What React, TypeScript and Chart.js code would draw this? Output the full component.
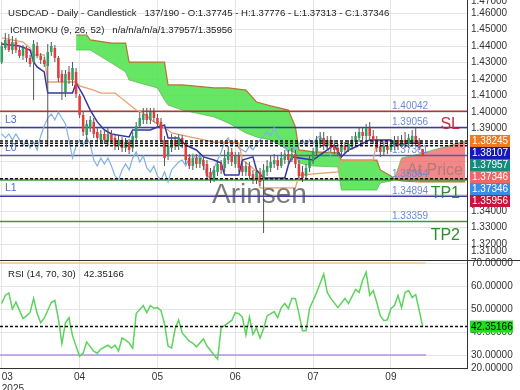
import React, { useEffect, useRef } from "react";
import { Chart, registerables } from "chart.js";

Chart.register(...registerables);

const FONT = '"Liberation Sans", Arial, sans-serif';
const GRID = "#e4e4e4";

// ---- candles (daily) ----
const opens = [
  1.4303, 1.4388, 1.4437, 1.4376, 1.4424, 1.4376, 1.4340, 1.4388, 1.4328, 1.4303,
  1.4400, 1.4340, 1.4315, 1.4279, 1.4364, 1.4388, 1.4328, 1.4231, 1.4121, 1.4243,
  1.4194, 1.4243, 1.4097, 1.3982, 1.3861, 1.3903, 1.3940, 1.3879, 1.3831, 1.3867,
  1.3818, 1.3867, 1.3843, 1.3794, 1.3831, 1.3782, 1.3818, 1.3782, 1.3843, 1.3915,
  1.3952, 1.3988, 1.3952, 1.4000, 1.3964, 1.3940, 1.3831, 1.3734, 1.3782, 1.3831,
  1.3794, 1.3843, 1.3806, 1.3721, 1.3673, 1.3721, 1.3685, 1.3709, 1.3685, 1.3637,
  1.3588, 1.3637, 1.3685, 1.3661, 1.3709, 1.3758, 1.3685, 1.3734, 1.3673, 1.3637,
  1.3673, 1.3624, 1.3588, 1.3637, 1.3588, 1.3637, 1.3661, 1.3685, 1.3709, 1.3673,
  1.3709, 1.3746, 1.3709, 1.3746, 1.3685, 1.3637, 1.3612, 1.3661, 1.3709, 1.3758,
  1.3806, 1.3843, 1.3794, 1.3831, 1.3794, 1.3782, 1.3758, 1.3794, 1.3770, 1.3794,
  1.3818, 1.3843, 1.3879, 1.3855, 1.3903, 1.3855, 1.3831, 1.3794, 1.3758, 1.3794,
  1.3770, 1.3794, 1.3831, 1.3794, 1.3831, 1.3806, 1.3818, 1.3855, 1.3818, 1.37745,
];
const highs = [
  1.4424, 1.4479, 1.4473, 1.4461, 1.4449, 1.4400, 1.4406, 1.4400, 1.4346, 1.4437,
  1.4424, 1.4358, 1.4334, 1.4412, 1.4424, 1.4406, 1.4340, 1.4255, 1.4255, 1.4279,
  1.4303, 1.4267, 1.4109, 1.4000, 1.3952, 1.3976, 1.3964, 1.3903, 1.3891, 1.3885,
  1.3903, 1.3891, 1.3867, 1.3855, 1.3849, 1.3843, 1.3837, 1.3879, 1.3940, 1.4000,
  1.4024, 1.4024, 1.4024, 1.4024, 1.3988, 1.3964, 1.3855, 1.3831, 1.3867, 1.3855,
  1.3867, 1.3861, 1.3831, 1.3746, 1.3740, 1.3746, 1.3740, 1.3734, 1.3709, 1.3661,
  1.3673, 1.3709, 1.3709, 1.3770, 1.3794, 1.3782, 1.3758, 1.3758, 1.3697, 1.3697,
  1.3697, 1.3649, 1.3661, 1.3661, 1.3685, 1.3709, 1.3734, 1.3746, 1.3734, 1.3758,
  1.3770, 1.3770, 1.3782, 1.3770, 1.3709, 1.3673, 1.3685, 1.3734, 1.3782, 1.3855,
  1.3879, 1.3879, 1.3855, 1.3855, 1.3831, 1.3806, 1.3818, 1.3818, 1.3831, 1.3855,
  1.3879, 1.3903, 1.3903, 1.3928, 1.3940, 1.3891, 1.3855, 1.3818, 1.3818, 1.3818,
  1.3831, 1.3855, 1.3855, 1.3861, 1.3879, 1.3867, 1.3891, 1.3903, 1.3843, 1.37776,
];
const lows = [
  1.4291, 1.4376, 1.4364, 1.4352, 1.4358, 1.4328, 1.4315, 1.4303, 1.4273, 1.4073,
  1.4328, 1.4291, 1.4273, 1.3794, 1.4340, 1.4303, 1.4182, 1.4073, 1.4091, 1.4170,
  1.4158, 1.4085, 1.3964, 1.3855, 1.3831, 1.3879, 1.3843, 1.3818, 1.3806, 1.3806,
  1.3794, 1.3812, 1.3770, 1.3770, 1.3758, 1.3758, 1.3746, 1.3758, 1.3831, 1.3903,
  1.3928, 1.3928, 1.3928, 1.3940, 1.3903, 1.3818, 1.3673, 1.3709, 1.3758, 1.3770,
  1.3770, 1.3782, 1.3685, 1.3655, 1.3649, 1.3661, 1.3661, 1.3649, 1.3588, 1.3570,
  1.3576, 1.3612, 1.3624, 1.3637, 1.3685, 1.3673, 1.3661, 1.3637, 1.3612, 1.3612,
  1.3594, 1.3564, 1.3564, 1.3552, 1.3267, 1.3612, 1.3637, 1.3661, 1.3649, 1.3661,
  1.3685, 1.3685, 1.3697, 1.3661, 1.3588, 1.3576, 1.3588, 1.3637, 1.3685, 1.3734,
  1.3782, 1.3770, 1.3770, 1.3758, 1.3746, 1.3734, 1.3721, 1.3746, 1.3758, 1.3770,
  1.3794, 1.3818, 1.3831, 1.3831, 1.3831, 1.3806, 1.3758, 1.3728, 1.3734, 1.3746,
  1.3758, 1.3770, 1.3770, 1.3782, 1.3782, 1.3782, 1.3794, 1.3794, 1.3770, 1.37313,
];
const closes = [
  1.4400, 1.4437, 1.4376, 1.4424, 1.4376, 1.4340, 1.4388, 1.4328, 1.4291, 1.4412,
  1.4340, 1.4315, 1.4291, 1.4364, 1.4400, 1.4328, 1.4206, 1.4182, 1.4231, 1.4194,
  1.4267, 1.4109, 1.3982, 1.3879, 1.3928, 1.3952, 1.3867, 1.3843, 1.3867, 1.3831,
  1.3867, 1.3831, 1.3794, 1.3831, 1.3782, 1.3818, 1.3770, 1.3855, 1.3915, 1.3964,
  1.3988, 1.3952, 1.4000, 1.3964, 1.3928, 1.3831, 1.3721, 1.3794, 1.3831, 1.3794,
  1.3843, 1.3806, 1.3709, 1.3673, 1.3721, 1.3685, 1.3721, 1.3673, 1.3612, 1.3588,
  1.3649, 1.3685, 1.3649, 1.3721, 1.3758, 1.3697, 1.3734, 1.3661, 1.3637, 1.3673,
  1.3612, 1.3588, 1.3637, 1.3576, 1.3649, 1.3673, 1.3697, 1.3709, 1.3673, 1.3721,
  1.3746, 1.3709, 1.3746, 1.3685, 1.3612, 1.3600, 1.3661, 1.3709, 1.3758, 1.3818,
  1.3843, 1.3794, 1.3831, 1.3782, 1.3770, 1.3758, 1.3794, 1.3770, 1.3806, 1.3831,
  1.3855, 1.3879, 1.3855, 1.3903, 1.3855, 1.3831, 1.3782, 1.3758, 1.3794, 1.3770,
  1.3806, 1.3831, 1.3794, 1.3831, 1.3806, 1.3843, 1.3855, 1.3818, 1.3782, 1.37346,
];

// ---- Ichimoku (9, 26, 52) ----
const tenkanBars = [0, 5, 8, 9, 10, 12, 13, 20, 21, 23, 25, 27, 29, 31, 36, 37, 42, 44, 46, 47, 50, 52, 55, 57, 60, 62, 63, 67, 68, 71, 72, 74, 80, 81, 82, 88, 90, 92, 94, 96, 98, 100, 104, 110, 111, 116, 119];
const tenkanValues = [1.4412, 1.4400, 1.4376, 1.4303, 1.4273, 1.4243, 1.4115, 1.4115, 1.4176, 1.4103, 1.4012, 1.3940, 1.3891, 1.3867, 1.3849, 1.3891, 1.3891, 1.3909, 1.3921, 1.3843, 1.3843, 1.3800, 1.3770, 1.3728, 1.3709, 1.3691, 1.3618, 1.3618, 1.3709, 1.3728, 1.3649, 1.3600, 1.3600, 1.3679, 1.3728, 1.3709, 1.3740, 1.3770, 1.3800, 1.3728, 1.3770, 1.3788, 1.3831, 1.3831, 1.3800, 1.3812, 1.38107];
const kijunBars = [0, 6, 8, 9, 12, 13, 21, 22, 26, 28, 32, 38, 40, 43, 47, 48, 60, 67, 68, 70, 72, 73, 83, 84, 95, 96, 105, 106, 119];
const kijunValues = [1.4449, 1.4424, 1.4388, 1.4346, 1.4346, 1.4182, 1.4182, 1.4158, 1.4133, 1.4115, 1.4115, 1.4012, 1.3994, 1.3940, 1.3891, 1.3873, 1.3818, 1.3813, 1.3709, 1.3679, 1.3637, 1.3540, 1.3540, 1.3618, 1.3637, 1.3709, 1.3709, 1.38245, 1.38245];
const spanBars = [21, 24, 25, 31, 35, 36, 44, 46, 47, 51, 60, 64, 69, 72, 76, 81, 83, 84, 88, 95, 96, 106, 107, 110, 111, 113, 118, 122, 126, 131];
const spanAValues = [1.4467, 1.4467, 1.4437, 1.4418, 1.4418, 1.4303, 1.4303, 1.4303, 1.4164, 1.4164, 1.4146, 1.4146, 1.4133, 1.4061, 1.4037, 1.4012, 1.3909, 1.3770, 1.3758, 1.3752, 1.3709, 1.3709, 1.3649, 1.3612, 1.3594, 1.3582, 1.3576, 1.3576, 1.3576, 1.3576];
const spanBValues = [1.4376, 1.4376, 1.4376, 1.4297, 1.4243, 1.4194, 1.4146, 1.4073, 1.4043, 1.4012, 1.3970, 1.3934, 1.3873, 1.3849, 1.3831, 1.3770, 1.3752, 1.3691, 1.3673, 1.3667, 1.3527, 1.3527, 1.3570, 1.3582, 1.3594, 1.3721, 1.3746, 1.3770, 1.3794, 1.3825];
const chikouShift = 26;

// ---- levels ----
const levelValues = [1.40042, 1.39056, 1.37361, 1.35884, 1.34894, 1.33359];
const levelNames = ["SL", "L3", "L0", "TP1", "L1", "TP2"];
const levelColors = ["#b83434", "#3a3aa8", "#5a5aa6", "#3c9a3c", "#3a3aa8", "#3c9a3c"];
const dashedValues = [1.38245, 1.38107, 1.37957, 1.35956];
const tagValues = [1.38245, 1.38107, 1.37957, 1.37346, 1.37346, 1.35956];
const tagColors = ["#f07a1e", "#1818b4", "#158a7d", "#f06666", "#3c8ce6", "#c8143c"];

// ---- RSI (14, 70, 30) ----
const rsiBars = [0, 1, 2, 3, 4, 6, 7, 8, 9, 10, 11, 12, 14, 15, 16, 17, 18, 19, 20, 22, 23, 24, 26, 27, 28, 30, 31, 32, 33, 34, 35, 36, 37, 38, 40, 41, 42, 43, 44, 45, 46, 47, 48, 49, 50, 51, 53, 54, 55, 57, 58, 60, 61, 62, 64, 65, 66, 67, 68, 69, 70, 71, 72, 73, 74, 75, 77, 78, 79, 80, 81, 82, 83, 84, 85, 86, 87, 89, 91, 92, 93, 95, 97, 98, 100, 101, 102, 103, 104, 105, 106, 107, 108, 109, 110, 111, 112, 113, 114, 115, 116, 117, 118, 119];
const rsiValues = [52.4, 56, 57, 50, 53, 45.8, 47, 48.5, 54.6, 48, 44, 46, 52.8, 53.7, 45.8, 35, 44, 46.2, 38.3, 29.5, 30.8, 35.6, 31.7, 30.8, 32.6, 34.3, 33, 34.3, 31.7, 37.4, 36.5, 35.2, 33, 48, 51.5, 48.4, 51.5, 50.3, 50.6, 49.3, 43.6, 33.9, 33, 41.4, 45.3, 39.6, 36, 35.2, 33.5, 37, 33.9, 30, 28.2, 41.8, 44, 45, 48.4, 48, 46.5, 38.7, 46.6, 39, 41.8, 37.4, 41.4, 47, 48.9, 46.2, 50.6, 52.4, 50.2, 54.6, 54.6, 48, 40.5, 40.5, 50.2, 57.2, 65.2, 57.2, 54.6, 50.6, 54.6, 52.4, 58.5, 57.2, 62.5, 66, 55.9, 58, 52.8, 47, 44.9, 45.3, 50.2, 51.5, 55.9, 50.6, 57.2, 58, 55, 56.3, 49.3, 42.35166];
const rsiUpper = 70;
const rsiLower = 30;

// ---- axes ----
const monthTicks = [0, 22, 44, 66, 88, 110];
const monthLabels: (string | string[])[] = [["03", "2025"], "04", "05", "06", "07", "09"];
const priceTicks = [1.31, 1.32, 1.33, 1.34, 1.35, 1.36, 1.37, 1.38, 1.39, 1.4, 1.41, 1.42, 1.43, 1.44, 1.45, 1.46, 1.47];
const rsiTicks = [20, 30, 40, 50, 60, 70];

const X_MIN = -0.5;
const X_MAX = 131.5;
const P_MIN = 1.3097;
const P_MAX = 1.4679;
const R_MIN = 24.35;
const R_MAX = 70.87;
const PAD = 6; // canvases extend above their plot so edge labels are not cut

const last = closes.length - 1;
const title1 = `USDCAD - Daily - Candlestick   137/190 - O:${opens[last].toFixed(5)} - H:${highs[last].toFixed(5)} - L:${lows[last].toFixed(5)} - C:${closes[last].toFixed(5)}`;
const title2 = "ICHIMOKU (9, 26, 52)   n/a/n/a/n/a/1.37957/1.35956";
const rsiTitle = `RSI (14, 70, 30)   ${rsiValues[rsiValues.length - 1].toFixed(5)}`;

const pts = (xs: number[], ys: number[]) => xs.map((x, i) => ({ x, y: ys[i] }));
const hline = (v: number, x0 = X_MIN, x1 = X_MAX) => [{ x: x0, y: v }, { x: x1, y: v }];

const lineDs = (data: any[], color: string, width: number, order: number, extra: any = {}) => ({
  type: "line",
  data,
  borderColor: color,
  borderWidth: width,
  pointRadius: 0,
  tension: 0,
  fill: false,
  order,
  ...extra,
});

const mainTextPlugin = {
  id: "mainTexts",
  afterDraw(chart: any) {
    const ctx = chart.ctx;
    const ys = chart.scales.y;
    const t = chart.chartArea.top;
    ctx.save();
    ctx.textBaseline = "alphabetic";
    ctx.fillStyle = "#222";
    ctx.font = `9.6px ${FONT}`;
    ctx.textAlign = "left";
    ctx.fillText(title1, 8, t + 16);
    ctx.fillText(title2, 10, t + 33);
    ctx.font = `28px ${FONT}`;
    ctx.fillStyle = "rgba(70,70,70,0.72)";
    ctx.fillText("Arinsen", 212, t + 203);
    ctx.font = `16px ${FONT}`;
    ctx.fillStyle = "rgba(110,110,110,0.5)";
    ctx.fillText("At Price", 407, t + 175);
    levelValues.forEach((v, i) => {
      const py = ys.getPixelForValue(v);
      ctx.font = `10px ${FONT}`;
      ctx.fillStyle = "#6b8ad6";
      ctx.textAlign = "left";
      ctx.fillText(v.toFixed(5), 392, py - 2.5);
      const name = levelNames[i];
      if (name.startsWith("L")) {
        ctx.font = `10.5px ${FONT}`;
        ctx.fillStyle = "#4a6ad0";
        ctx.fillText(name, 5, py - 5);
      } else {
        ctx.font = `16px ${FONT}`;
        ctx.fillStyle = name === "SL" ? "#cc2a3c" : "#2e8b2e";
        ctx.textAlign = "right";
        ctx.fillText(name, 460, py + 18);
      }
    });
    let prev = -Infinity;
    ctx.font = `10px ${FONT}`;
    ctx.textAlign = "left";
    ctx.textBaseline = "middle";
    tagValues.forEach((v, i) => {
      const c = Math.max(ys.getPixelForValue(v), prev + 12);
      prev = c;
      ctx.fillStyle = tagColors[i];
      ctx.fillRect(470, c - 6, 40, 12);
      ctx.fillStyle = "#fff";
      ctx.fillText(v.toFixed(5), 472, c + 0.5);
    });
    ctx.restore();
  },
};

const rsiTextPlugin = {
  id: "rsiTexts",
  afterDraw(chart: any) {
    const ctx = chart.ctx;
    const ys = chart.scales.y;
    const t = chart.chartArea.top;
    ctx.save();
    ctx.fillStyle = "#222";
    ctx.font = `9.6px ${FONT}`;
    ctx.textAlign = "left";
    ctx.textBaseline = "alphabetic";
    ctx.fillText(rsiTitle, 8, t + 16);
    const v = rsiValues[rsiValues.length - 1];
    const c = ys.getPixelForValue(v);
    ctx.fillStyle = "#1ee01e";
    ctx.fillRect(470, c - 6, 43, 12);
    ctx.fillStyle = "#000";
    ctx.font = `10px ${FONT}`;
    ctx.textBaseline = "middle";
    ctx.fillText(v.toFixed(5), 471, c + 0.5);
    ctx.restore();
  },
};

const xScale = (showLabels: boolean) => ({
  type: "linear",
  min: X_MIN,
  max: X_MAX,
  offset: false,
  bounds: "data",
  afterBuildTicks: (s: any) => {
    s.ticks = [...monthTicks, X_MAX].map((v) => ({ value: v }));
  },
  ticks: {
    display: showLabels,
    autoSkip: false,
    maxRotation: 0,
    minRotation: 0,
    align: "inner",
    padding: 3,
    color: "#333",
    font: { size: 10, family: FONT },
    callback: (_v: any, i: number) => (i < monthLabels.length ? monthLabels[i] : ""),
  },
  grid: {
    offset: false,
    drawTicks: false,
    color: (c: any) => (c.index < monthTicks.length ? GRID : "rgba(0,0,0,0)"),
  },
  border: { display: showLabels, color: "#333" },
  afterFit: (s: any) => {
    s.height = showLabels ? 22 : 0;
    s.paddingLeft = 0;
    s.paddingRight = 0;
  },
});

const yScale = (min: number, max: number, ticks: number[], px: number, insetBottom: number, insetTop: number) => ({
  type: "linear",
  position: "right",
  min,
  max,
  beginAtZero: false,
  bounds: "data",
  afterBuildTicks: (s: any) => {
    const per = (max - min) / px;
    s.ticks = ticks.map((v) => ({ value: Math.min(Math.max(v, min + insetBottom * per), max - insetTop * per) }));
  },
  ticks: {
    autoSkip: false,
    padding: 4,
    color: "#333",
    font: { size: 10, family: FONT },
    callback: (_v: any, i: number) => ticks[i].toFixed(5),
  },
  grid: {
    drawTicks: false,
    color: (c: any) => {
      const t = c.tick;
      if (!t || c.index >= ticks.length) return "rgba(0,0,0,0)";
      return Math.abs(ticks[c.index] - t.value) < 1e-9 ? GRID : "rgba(0,0,0,0)";
    },
  },
  border: { display: true, color: "#333" },
  afterFit: (s: any) => {
    s.width = 53;
    s.paddingTop = 0;
    s.paddingBottom = 0;
  },
});

const common = {
  responsive: false,
  maintainAspectRatio: false,
  animation: false,
  devicePixelRatio: 1,
  events: [],
  layout: { padding: { top: PAD, left: 0, right: 0, bottom: 0 } },
};

export default function App() {
  const mainRef = useRef<HTMLCanvasElement>(null);
  const rsiRef = useRef<HTMLCanvasElement>(null);

  useEffect(() => {
    document.body.style.margin = "0";
    Chart.defaults.font.family = FONT;

    const candleColor = (c: any) => (closes[c.dataIndex] >= opens[c.dataIndex] ? "#2f9e62" : "#e23c3c");
    const chikou = closes.slice(chikouShift).map((y, i) => ({ x: i, y }));

    const datasets: any[] = [
      {
        type: "bar",
        data: closes.map((_, i) => ({ x: i, y: [opens[i], closes[i]] })),
        backgroundColor: candleColor,
        borderWidth: 0,
        grouped: false,
        maxBarThickness: 3,
        order: 1,
      },
      {
        type: "bar",
        data: closes.map((_, i) => ({ x: i, y: [lows[i], highs[i]] })),
        backgroundColor: "#555",
        borderWidth: 0,
        grouped: false,
        maxBarThickness: 1,
        order: 2,
      },
      ...dashedValues.map((v) => lineDs(hline(v), "#111", 1.5, 0, { borderDash: [3, 2] })),
      lineDs(pts(tenkanBars, tenkanValues), "#3535a8", 1.5, 3),
      lineDs(pts(kijunBars, kijunValues), "#e8a070", 1.3, 3),
      lineDs(chikou, "#7eb2e6", 1.2, 3),
      ...levelValues.map((v, i) => lineDs(hline(v), levelColors[i], 1.5, 4)),
      lineDs(pts(spanBars, spanAValues), "#b8742e", 1.2, 6, {
        fill: { target: "+1", above: "rgba(80,226,80,0.88)", below: "rgba(240,110,110,0.82)" },
      }),
      lineDs(pts(spanBars, spanBValues), "rgba(70,190,70,0.7)", 1, 7),
    ];

    const main = new Chart(mainRef.current as HTMLCanvasElement, {
      type: "line",
      data: { datasets },
      options: {
        ...common,
        plugins: {
          legend: { display: false },
          tooltip: { enabled: false },
          filler: { drawTime: "beforeDatasetsDraw" },
        },
        scales: {
          x: xScale(false),
          y: yScale(P_MIN, P_MAX, priceTicks, 261, 10, 1),
        },
      } as any,
      plugins: [mainTextPlugin],
    } as any);

    const rsiEnd = closes.length - 0.1;
    const rsi = new Chart(rsiRef.current as HTMLCanvasElement, {
      type: "line",
      data: {
        datasets: [
          lineDs(hline(rsiValues[rsiValues.length - 1]), "#111", 1.5, 0, { borderDash: [3, 2] }),
          lineDs(pts(rsiBars, rsiValues), "#5cd35c", 1.5, 1),
          lineDs(hline(rsiUpper, X_MIN, rsiEnd), "#f7c88a", 1.5, 2),
          lineDs(hline(rsiLower, X_MIN, rsiEnd), "#b690e6", 1.5, 2),
        ] as any[],
      },
      options: {
        ...common,
        plugins: { legend: { display: false }, tooltip: { enabled: false } },
        scales: {
          x: xScale(true),
          y: yScale(R_MIN, R_MAX, rsiTicks, 107, 0, 0),
        },
      } as any,
      plugins: [rsiTextPlugin],
    } as any);

    return () => {
      main.destroy();
      rsi.destroy();
    };
  }, []);

  return (
    <div style={{ position: "relative", width: 520, height: 390, background: "#fff", overflow: "hidden" }}>
      <canvas ref={mainRef} width={520} height={261 + PAD} style={{ position: "absolute", left: 0, top: -PAD }} />
      <canvas ref={rsiRef} width={520} height={129 + PAD} style={{ position: "absolute", left: 0, top: 261 - PAD }} />
      <div style={{ position: "absolute", left: 0, top: 260, width: 520, height: 1, background: "#333" }} />
    </div>
  );
}
